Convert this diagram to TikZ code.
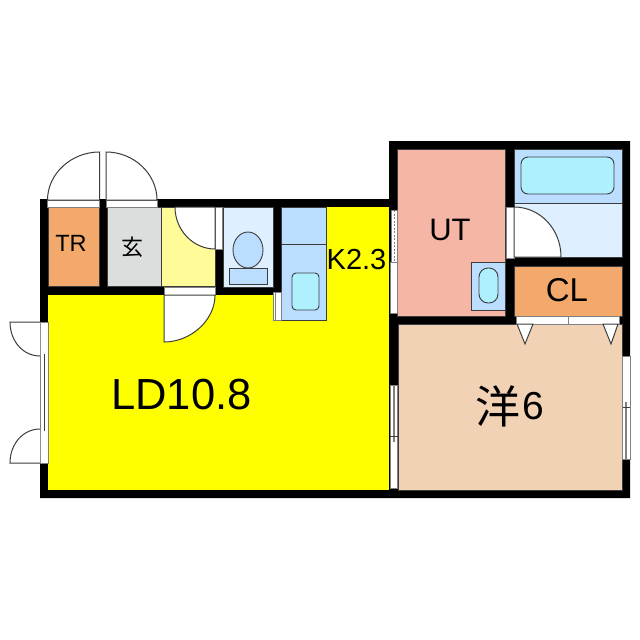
\documentclass[tikz,border=0pt]{standalone}
\usepackage{fontspec}
\setmainfont{Liberation Sans}
\newfontfamily\cjkfont{Noto Sans CJK JP}
\definecolor{roomorange}{RGB}{244,169,108}
\definecolor{roomgray}{RGB}{220,221,221}
\definecolor{roompale}{RGB}{255,251,153}
\definecolor{roomyellow}{RGB}{255,255,0}
\definecolor{roomsky}{RGB}{222,240,255}
\definecolor{roomblue}{RGB}{187,221,255}
\definecolor{roomcyan}{RGB}{175,240,255}
\definecolor{roompink}{RGB}{245,182,166}
\definecolor{roomwood}{RGB}{242,210,181}
\definecolor{linegray}{RGB}{60,60,60}
\usetikzlibrary{positioning}

\begin{document}
\begin{tikzpicture}[
		x=1pt, y=-1pt,
		room/.style={draw=linegray, line width=0.6pt},
		fixture/.style={draw=linegray, line width=0.9pt},
		leaf/.style={draw=linegray, line width=1pt, fill=white},
		opening/.style={draw=gray, line width=0.6pt, fill=white},
		label/.style={inner sep=0pt, text=black},
		]
		\useasboundingbox (0,0) rectangle (640,640);

		% Walls
		\fill[black] (40,199) -- (389,199) -- (389,141) -- (630,141) -- (630,498) -- (40,498) -- cycle;

		% Rooms
		\fill[roomyellow] (48,295) rectangle (389,490);
		\fill[roomyellow] (281,207) rectangle (389,320);
		\draw[room, fill=roomorange] (48,207) rectangle (99,286);
		\draw[room, fill=roomgray] (107,207) rectangle (161,286);
		\draw[room, fill=roompale] (161,207) rectangle (215,286);
		\draw[room, fill=roomsky] (223,207) rectangle (273,287);
		\draw[room, fill=roompink] (397,149) rectangle (505,316);
		\draw[room, fill=roomblue] (514,149) rectangle (622,203);
		\draw[room, fill=roomsky] (514,203) rectangle (622,257);
		\draw[room, fill=roomorange] (514,266) rectangle (622,316);
		\draw[room, fill=roomwood] (398,324) rectangle (622,490);

		% Fixtures
		\draw[fixture, fill=roomblue] (229,268) rectangle (267,284);
		\draw[fixture, fill=roomblue] (248,250) ellipse (15 and 18);
		\draw[room, fill=roomblue] (281,207) rectangle (326,244);
		\draw[room, fill=roomblue] (281,244) rectangle (326,320);
		\draw[fixture, fill=roomcyan, rounded corners=4pt] (292,273) rectangle (319,310);
		\draw[fixture, fill=roomcyan, rounded corners=7pt] (521,157) rectangle (614,194);
		\draw[fixture, fill=roomblue] (471,262) rectangle (505,310);
		\draw[fixture, fill=roomcyan, rounded corners=9pt] (479,268) rectangle (498,303);

		% Openings
		\draw[opening] (47.5,200) rectangle (99,207);
		\draw[opening] (106,200) rectangle (157,207);
		\draw[opening] (215,207) rectangle (222,249);
		\draw[opening] (164,287) rectangle (215,295);
		\draw[opening] (506,207) rectangle (514,258);
		\draw[opening] (516,316) rectangle (568,324);
		\draw[opening] (568,316) rectangle (619,324);
		\draw[opening] (273.5,292) rectangle (281,320);
		\draw[gray, line width=0.8pt] (275.5,292) -- (275.5,320);
		\draw[opening] (391.5,210) rectangle (397,262);
		\draw[gray, line width=0.8pt, dash pattern=on 2pt off 1.5pt] (394.5,210) -- (394.5,262);
		\draw[opening] (390,262) rectangle (397,313);

		% Windows
		\draw[opening] (40,322) rectangle (48,463);
		\draw[draw=linegray, line width=0.8pt] (44,354) -- (44,431);
		\draw[opening] (390,385) rectangle (397.5,488);
		\draw[gray, line width=1.2pt] (394,385) -- (394,442);
		\draw[linegray, line width=0.6pt] (390,436) -- (397.5,436);
		\draw[opening] (622.5,356) rectangle (630,459);
		\draw[gray, line width=1.2pt] (626,402) -- (626,459);
		\draw[linegray, line width=0.6pt] (622.5,407) -- (630,407);

		% Doors
		\draw[leaf] (99.5,200) -- (99.5,152) .. controls (71,152) and (47.5,174) .. (47.5,200) -- cycle;
		\draw[leaf] (106,200) -- (106,152) .. controls (134,152) and (157,174) .. (157,200) -- cycle;
		\draw[leaf] (215,207) -- (175,207) .. controls (175,230) and (193,249) .. (215,249) -- cycle;
		\draw[leaf] (164,295) -- (215,295) .. controls (215,321) and (190,342) .. (164,342) -- cycle;
		\draw[leaf] (514,257) -- (514,207) .. controls (540,207) and (561,229) .. (561,257) -- cycle;
		\draw[leaf] (40,322) -- (10,322) .. controls (10,341) and (23,356) .. (40,356);
		\draw[leaf] (40,463) -- (10,463) .. controls (10,444) and (23,429) .. (40,429);
		\draw[leaf] (517,324) -- (533,324) -- (525,344) -- cycle;
		\draw[leaf] (603,324) -- (618,324) -- (611,344) -- cycle;

		% Labels
		\node[label, font=\fontsize{23.5}{24}\selectfont] (tr) at (71,243.5) {TR};
		\node[label, font=\fontsize{22}{22}\cjkfont] (genkan) at (132,247) {玄};
		\node[label, font=\fontsize{29}{29}\selectfont] (kitchen) at (356.5,260) {K2.3};
		\node[label, font=\fontsize{31}{31}\selectfont] (ut) at (450,230) {UT};
		\node[label, font=\fontsize{33}{33}\selectfont] (cl) at (567,290) {CL};
		\node[label, font=\fontsize{43.5}{44}\selectfont] (living) at (181.5,395) {LD10.8};
		\node[label, font=\fontsize{45}{45}\cjkfont] (western) at (498,406) {洋};
		\node[label, font=\fontsize{39}{39}\selectfont, right=2pt of western] (westernsize) {6};
	\end{tikzpicture}
\end{document}
